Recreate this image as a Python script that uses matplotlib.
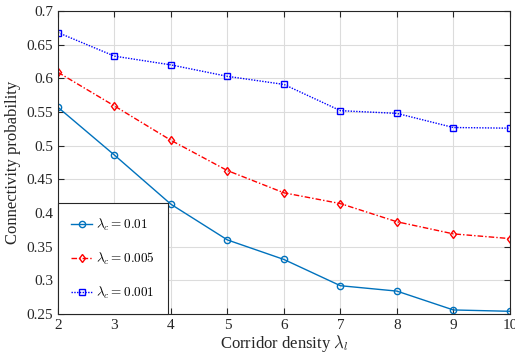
import numpy as np
import matplotlib.pyplot as plt

plt.rcParams['font.family'] = 'Liberation Serif'
plt.rcParams['mathtext.fontset'] = 'cm'

# corridor density
x = [2, 3, 4, 5, 6, 7, 8, 9, 10]
# connectivity probability for each lambda_c
p_001 = [0.557, 0.486, 0.413, 0.360, 0.331, 0.292, 0.284, 0.256, 0.254]
p_0005 = [0.609, 0.559, 0.508, 0.463, 0.430, 0.414, 0.387, 0.369, 0.362]
p_0001 = [0.668, 0.633, 0.620, 0.603, 0.591, 0.552, 0.548, 0.527, 0.526]

fig = plt.figure(figsize=(5.15, 3.56), dpi=100)
ax = fig.add_axes([0.1126, 0.118, 0.8774, 0.851])

ax.plot(x, p_001, '-o', color='#0072BD', lw=1.0, ms=4.5, mfc='none', mew=1.0,
        label=r'$\lambda_c = 0.01$')
ax.plot(x, p_0005, 'd', ls=(0, (4, 1.5, 1, 1.5)), color='r', lw=1.0, ms=4.5, mfc='none', mew=1.0,
        label=r'$\lambda_c = 0.005$')
ax.plot(x, p_0001, 's', ls=(0, (1, 1)), color='b', lw=1.0, ms=3.8, mfc='none', mew=1.0,
        label=r'$\lambda_c = 0.001$')

ax.set_xlim(2, 10)
ax.set_ylim(0.25, 0.7)
ax.set_xticks(range(2, 11))
ax.set_yticks(np.arange(0.25, 0.71, 0.05))
ax.set_yticklabels(['0.25', '0.3', '0.35', '0.4', '0.45', '0.5', '0.55', '0.6', '0.65', '0.7'])
ax.grid(True, color='#dcdcdc', lw=0.8)
ax.tick_params(direction='in', top=True, right=True, labelsize=11, colors='#262626', length=4)
for s in ax.spines.values():
    s.set_color('#262626')
    s.set_linewidth(0.8)

ax.set_xlabel(r'Corridor density $\lambda_l$', fontsize=12, color='#262626', labelpad=1)
ax.set_ylabel('Connectivity probability', fontsize=12, color='#262626', labelpad=4)

leg = ax.legend(loc='lower left', fontsize=9.5, fancybox=False, framealpha=1,
                edgecolor='#262626', borderaxespad=0, labelspacing=1.35,
                handlelength=1.6, handletextpad=0.3, borderpad=1.0)
leg.get_frame().set_linewidth(0.8)

plt.savefig('out.png', dpi=100)
